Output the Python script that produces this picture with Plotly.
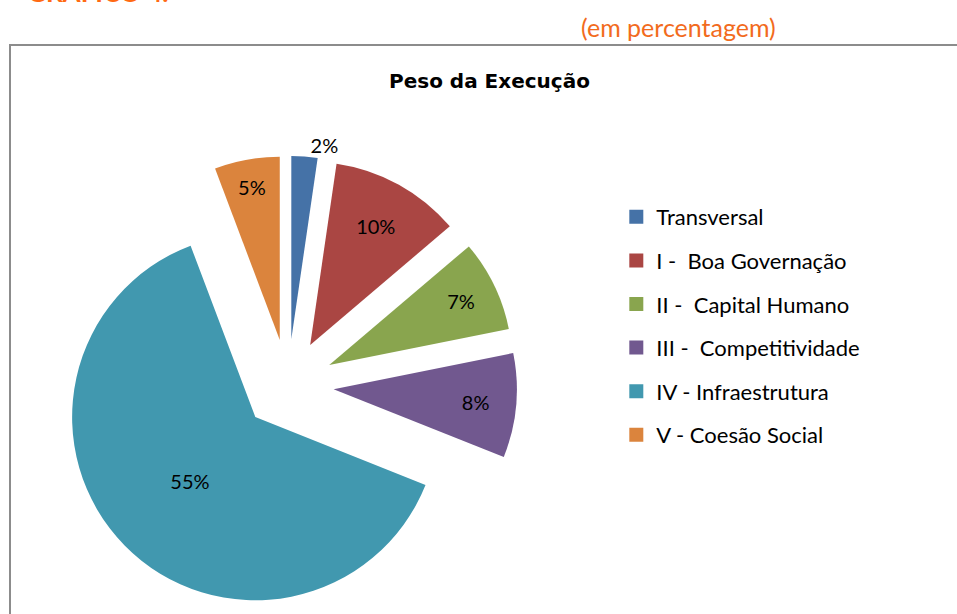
import plotly.graph_objects as go

categories = ["Transversal", "I -  Boa Governação", "II -  Capital Humano",
              "III -  Competitividade", "IV - Infraestrutura", "V - Coesão Social"]
values = [2, 10, 7, 8, 55, 5]
value_labels = ["2%", "10%", "7%", "8%", "55%", "5%"]
colors = ["#4572A7", "#AA4643", "#89A54E", "#71588F", "#4198AF", "#DB843D"]
text_positions = ["outside", "inside", "inside", "inside", "inside", "inside"]

FONT = "Lato, 'Open Sans', sans-serif"
W, H = 957, 614

fig = go.Figure()
fig.add_trace(go.Pie(
    labels=categories, values=values, text=value_labels,
    textinfo="text", textposition=text_positions,
    insidetextorientation="horizontal",
    textfont=dict(family=FONT, size=20, color="#000000"),
    marker=dict(colors=colors, line=dict(width=0)),
    pull=[0.25] * len(values),
    sort=False, direction="clockwise", rotation=0,
    domain=dict(x=[59 / W, 517 / W], y=[0, 1 - 156 / H]),
    showlegend=False, hoverinfo="label+text",
))

# legend entries (one group per category so spacing can be set)
for name, col in zip(categories, colors):
    fig.add_trace(go.Scatter(
        x=[None], y=[None], mode="markers", name=name,
        legendgroup=name,
        marker=dict(symbol="square", size=14, color=col, line=dict(width=0)),
    ))

fig.update_layout(
    width=W, height=H,
    margin=dict(l=0, r=0, t=0, b=0, autoexpand=False),
    paper_bgcolor="white", plot_bgcolor="white",
    xaxis=dict(visible=False), yaxis=dict(visible=False),
    showlegend=True,
    legend=dict(x=0.644, y=1 - 196 / H, xanchor="left", yanchor="top",
                font=dict(family=FONT, size=22, color="#000000"),
                traceorder="grouped", tracegroupgap=12,
                bgcolor="rgba(0,0,0,0)", itemclick=False),
    font=dict(family=FONT),
    shapes=[dict(type="rect", xref="paper", yref="paper",
                 x0=10 / W, x1=1.05, y0=-0.05, y1=1 - 45 / H,
                 line=dict(color="#8C8C8C", width=2), fillcolor="rgba(0,0,0,0)",
                 layer="below")],
    annotations=[
        dict(text="<b>Peso da Execução</b>", x=490 / W, y=1 - 81 / H,
             xref="paper", yref="paper", xanchor="center", yanchor="middle",
             showarrow=False,
             font=dict(family="'DejaVu Sans', sans-serif", size=20, color="#000000")),
        dict(text="(em percentagem)", x=778 / W, y=1 - 27 / H,
             xref="paper", yref="paper", xanchor="right", yanchor="middle",
             showarrow=False,
             font=dict(family=FONT, size=25, color="#F26B1D")),
        dict(text="<b>GRÁFICO 4.</b>", x=25 / W, y=1 - 10 / H,
             xref="paper", yref="paper", xanchor="left", yanchor="bottom",
             showarrow=False,
             font=dict(family=FONT, size=26, color="#FF6A13")),
    ],
)

fig.write_html("out.html", config={"displayModeBar": False},
               post_script="document.body.style.margin='0';")
